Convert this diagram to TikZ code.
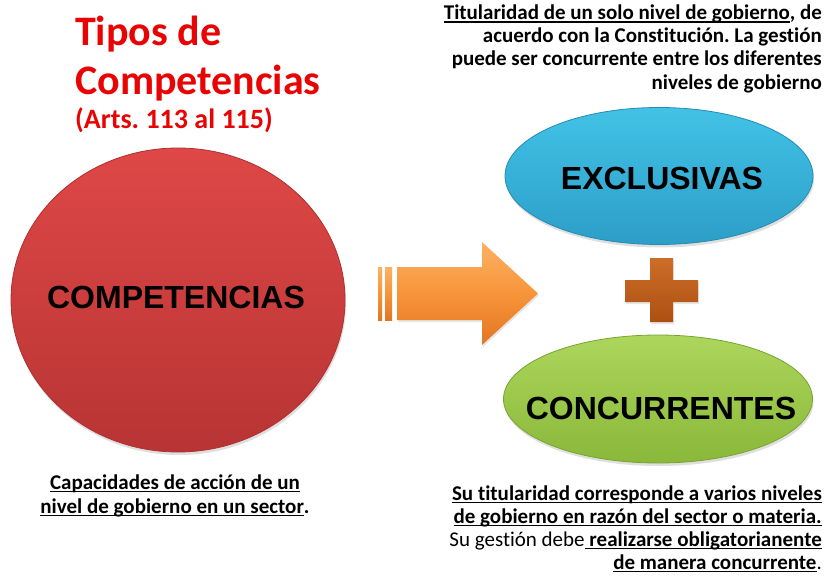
\documentclass[tikz,border=0pt]{standalone}
\usepackage{fontspec}
\setmainfont{Carlito}[Ligatures={NoCommon}]
\newfontfamily\arialfont{Liberation Sans}
\usetikzlibrary{shapes.geometric,shadows}
\frenchspacing
\definecolor{titlered}{RGB}{232,4,4}
\definecolor{redtop}{RGB}{222,72,70}
\definecolor{redbot}{RGB}{184,52,52}
\definecolor{redrim}{RGB}{175,48,48}
\definecolor{bluetop}{RGB}{66,194,230}
\definecolor{bluebot}{RGB}{44,158,200}
\definecolor{bluerim}{RGB}{36,140,180}
\definecolor{greentop}{RGB}{172,214,92}
\definecolor{greenbot}{RGB}{138,184,58}
\definecolor{greenrim}{RGB}{120,164,46}
\definecolor{orgtop}{RGB}{252,178,100}
\definecolor{orgmid}{RGB}{247,148,58}
\definecolor{orgbot}{RGB}{226,118,34}
\definecolor{plustop}{RGB}{205,110,40}
\definecolor{plusbot}{RGB}{172,80,18}
\newcommand\myul[1]{\setbox0\hbox{#1}\rlap{\rule[-2.8pt]{\wd0}{1.3pt}}\box0}
\tikzset{
  bigtxt/.style={font=\arialfont\bfseries\fontsize{32}{32}\selectfont, text=black, inner sep=0},
  desc/.style={font=\bfseries\fontsize{21}{23}\selectfont, inner sep=0, text=black},
  ttl/.style={font=\bfseries\fontsize{42}{48}\selectfont, text=titlered, inner sep=0},
  sub/.style={font=\bfseries\fontsize{28}{30}\selectfont, text=titlered, inner sep=0},
  blob/.style={ellipse, inner sep=0, line width=0.8pt,
    drop shadow={opacity=0.25, shadow xshift=1pt, shadow yshift=-3pt}},
}
\begin{document}
\begin{tikzpicture}[x=1pt,y=-1pt]
\useasboundingbox (0,0) rectangle (832,578);

% title
\node[ttl, anchor=base west] (t1) at (75,46) {Tipos de};
\node[ttl, anchor=base west] (t2) at (75,94) {Competencias};
\node[sub, anchor=base west] (t3) at (75,128) {(Arts. 113 al 115)};

% top right description
\node[desc, anchor=base east] (a1) at (822,20) {\myul{Titularidad de un solo nivel de gobierno}, de};
\node[desc, anchor=base east] (a2) at (822,43) {acuerdo con la Constitución. La gestión};
\node[desc, anchor=base east] (a3) at (822,66) {puede ser concurrente entre los diferentes};
\node[desc, anchor=base east] (a4) at (822,89) {niveles de gobierno};

% shapes
\node[blob, minimum width=334pt, minimum height=304pt, top color=redtop, bottom color=redbot, draw=redrim] (comp) at (178,300) {};
\node[bigtxt] (compt) at (176,297) {COMPETENCIAS};

\node[blob, minimum width=308pt, minimum height=137pt, top color=bluetop, bottom color=bluebot, draw=bluerim] (excl) at (659,176) {};
\node[bigtxt] (exclt) at (662,178) {EXCLUSIVAS};

\node[blob, minimum width=309pt, minimum height=128pt, top color=greentop, bottom color=greenbot, draw=greenrim] (conc) at (658,399) {};
\node[bigtxt] (conct) at (661,408) {CONCURRENTES};

% arrow
\path[drop shadow={opacity=0.2, shadow xshift=1pt, shadow yshift=-2pt},
      top color=orgtop, bottom color=orgbot, middle color=orgmid]
  (397,267) -- (482,267) -- (482,242) -- (538,293.5) -- (482,345) -- (482,320) -- (397,320) -- cycle;
\path[top color=orgtop, bottom color=orgbot, middle color=orgmid] (378,267) rectangle (382,320);
\path[top color=orgtop, bottom color=orgbot, middle color=orgmid] (385,267) rectangle (392,320);

% plus
\path[drop shadow={opacity=0.2, shadow xshift=1pt, shadow yshift=-2pt},
      top color=plustop, bottom color=plusbot]
  (650,258) -- (673,258) -- (673,280) -- (698,280) -- (698,302) -- (673,302) -- (673,322)
  -- (650,322) -- (650,302) -- (625,302) -- (625,280) -- (650,280) -- cycle;

% bottom left description
\node[desc, font=\bfseries\fontsize{21}{25}\selectfont, anchor=base] (b1) at (175,489) {\myul{Capacidades de acción de un}};
\node[desc, font=\bfseries\fontsize{21}{25}\selectfont, anchor=base] (b2) at (175,513) {\myul{nivel de gobierno en un sector}.};

% bottom right description
\node[desc, anchor=base east] (c1) at (822,500) {\myul{Su titularidad corresponde a varios niveles}};
\node[desc, anchor=base east] (c2) at (822,523) {\myul{de gobierno en razón del sector o materia.}};
\node[desc, anchor=base east] (c3) at (822,546) {\mdseries Su gestión debe\myul{ \bfseries realizarse obligatorianente}};
\node[desc, anchor=base east] (c4) at (822,569) {\myul{de manera concurrente}\mdseries .};
\end{tikzpicture}
\end{document}
